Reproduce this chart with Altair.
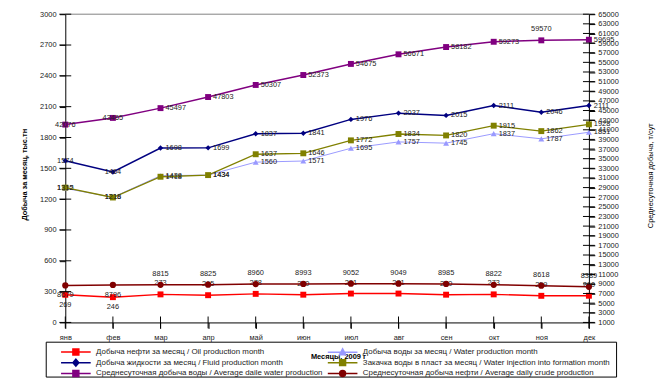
import altair as alt
import pandas as pd

# ---------------- data ----------------
months = ["янв", "фев", "мар", "апр", "май", "июн", "июл", "авг", "сен", "окт", "ноя", "дек"]

oil_month = [269, 246, 273, 265, 278, 270, 281, 281, 270, 273, 259, 260]
fluid_month = [1574, 1464, 1698, 1699, 1837, 1841, 1976, 2037, 2015, 2111, 2046, 2111]
water_month = [1305, 1218, 1428, 1434, 1560, 1571, 1695, 1757, 1745, 1837, 1787, 1851]
injection_month = [1312, 1216, 1418, 1434, 1637, 1646, 1772, 1834, 1820, 1915, 1862, 1928]
daily_water = [42076, 43465, 45497, 47803, 50307, 52373, 54675, 56671, 58182, 59273, 59570, 59695]
daily_oil = [8679, 8796, 8815, 8825, 8960, 8993, 9052, 9049, 8985, 8822, 8618, 8389]

left_ticks = [0, 300, 600, 900, 1200, 1500, 1800, 2100, 2400, 2700, 3000]
right_ticks = list(range(1000, 65001, 2000))

name_oil = "Добыча нефти за месяц / Oil production month"
name_fluid = "Добыча жидкости за месяц / Fluid production month"
name_dwater = "Среднесуточная добыча воды / Average daile water production"
name_water = "Добыча воды за месяц / Water production month"
name_inj = "Закачка воды в пласт за месяц / Water injection into formation month"
name_doil = "Среднесуточная добыча нефти /  Average daily crude production"

# ---------------- styles ----------------
FONT = "Liberation Sans"
FS = 7.5
TXT = "#222222"
C_OIL, C_FLUID, C_DWATER = "#FF0000", "#000080", "#800080"
C_WATER, C_INJ, C_DOIL = "#9999FF", "#808000", "#800000"

W, H = 530, 312

x_scale = alt.Scale(type="point", domain=months, padding=0)
x_axis = alt.Axis(tickSize=6, labelPadding=5, labelAngle=0, title="Месяцы, 2009 г",
                  titleFontWeight="bold", titleX=276, titleY=35, titleBaseline="middle",
                  titleAlign="center")
x_enc = alt.X("month:N", scale=x_scale, axis=x_axis)

left_scale = alt.Scale(domain=[0, 3000], nice=False, zero=False)
right_scale = alt.Scale(domain=[1000, 65000], nice=False, zero=False)
left_axis = alt.Axis(values=left_ticks, format="d", tickSize=6, labelPadding=3.4,
                     title="Добыча за месяц, тыс.тн", titleFontWeight="bold", titleAngle=270,
                     titleX=-41, titleY=162, titleAlign="center", titleBaseline="middle")
right_axis = alt.Axis(orient="right", values=right_ticks, format="d", tickSize=6, labelPadding=3,
                      title="Среднесуточная добыча, т/сут", titleFontWeight="normal",
                      titleAngle=270, titleX=62, titleY=163, titleAlign="center",
                      titleBaseline="middle")

y_left = alt.Y("value:Q", scale=left_scale, axis=left_axis)
y_right = alt.Y("value:Q", scale=right_scale, axis=right_axis)


def table(values):
    return pd.DataFrame({"month": months, "value": values,
                         "label": [str(v) for v in values], "i": list(range(12))})


def text_layer(base, yenc, filt, **kw):
    return base.transform_filter(filt).mark_text(
        font=FONT, fontSize=FS, color=TXT, baseline="middle", **kw
    ).encode(x=x_enc, y=yenc, text="label:N")


def series(values, color, shape, size, sw, yenc, mode, above_idx=()):
    base = alt.Chart(table(values))
    layers = [
        base.mark_line(color=color, strokeWidth=sw).encode(x=x_enc, y=yenc),
        base.mark_point(shape=shape, filled=True, size=size, color=color, opacity=1,
                        strokeWidth=0).encode(x=x_enc, y=yenc),
    ]
    if mode == "side":
        ex = "".join(f" && datum.i != {k}" for k in above_idx)
        layers.append(text_layer(base, yenc, "datum.i < 2", align="center"))
        layers.append(text_layer(base, yenc, "datum.i >= 2" + ex, align="left", dx=5))
        for k in above_idx:
            layers.append(text_layer(base, yenc, f"datum.i == {k}", align="center", dy=-11))
    else:
        layers.append(text_layer(base, yenc, "datum.i < 2", align="center", dy=10))
        layers.append(text_layer(base, yenc, "datum.i >= 2", align="center", dy=-11))
    return layers


# ---------------- legend (drawn by Vega legend from scales) ----------------
# Vega fills the two legend columns top-to-bottom
legend_order = [name_oil, name_fluid, name_dwater, name_water, name_inj, name_doil]
legend_colors = [C_OIL, C_FLUID, C_DWATER, C_WATER, C_INJ, C_DOIL]
# symbol unit = 3.5 px (symbolSize 49)
LINE = "M0,0L8.571,0"
SQ = "M3.429,-0.857L5.143,-0.857L5.143,0.857L3.429,0.857Z"
DIA = "M4.286,-1L5.143,0L4.286,1L3.429,0Z"
TRI = "M4.286,-0.95L5.2,0.75L3.372,0.75Z"
CIR = "M3.429,0A0.857,0.857,0,1,1,5.143,0A0.857,0.857,0,1,1,3.429,0Z"
legend_paths = [LINE + SQ, LINE + DIA, LINE + SQ, LINE + TRI, LINE + SQ, LINE + CIR]

leg = alt.Legend(orient="none", legendX=-8.8, legendY=337.2, columns=2, columnPadding=-2,
                 rowPadding=-2.3, symbolSize=49, symbolStrokeWidth=1.5, labelOffset=31,
                 labelFont=FONT, labelFontSize=8, labelColor=TXT, labelLimit=400,
                 title=None, padding=0, symbolLimit=20)

legend_layer = alt.Chart(pd.DataFrame({"series": legend_order})).transform_filter(
    "false").mark_point(filled=True, opacity=1, strokeWidth=1.5).encode(
    color=alt.Color("series:N", scale=alt.Scale(domain=legend_order, range=legend_colors),
                    legend=leg),
    stroke=alt.Stroke("series:N", scale=alt.Scale(domain=legend_order, range=legend_colors),
                      legend=leg),
    shape=alt.Shape("series:N", scale=alt.Scale(domain=legend_order, range=legend_paths),
                    legend=leg),
)

legend_frame = alt.Chart(pd.DataFrame({"a": [0]})).mark_rect(
    fill="transparent", stroke="black", strokeWidth=1).encode(
    x=alt.value(-19.3), x2=alt.value(558), y=alt.value(332), y2=alt.value(367.3))

# ---------------- decorations ----------------
one = pd.DataFrame({"a": [0]})
top_line = alt.Chart(one).mark_rule(color="#808080", strokeWidth=1).encode(
    x=alt.X(datum=months[0], type="nominal", scale=x_scale, axis=x_axis),
    x2=alt.X2(datum=months[-1]),
    y=alt.Y(datum=3000, type="quantitative", scale=left_scale, axis=left_axis))

x_ticks = alt.Chart(pd.DataFrame({"month": months})).mark_rule(
    color="black", strokeWidth=1, yOffset=-6, y2Offset=6).encode(
    x=x_enc,
    y=alt.Y(datum=0, type="quantitative", scale=left_scale, axis=left_axis),
    y2=alt.Y2(datum=0))

l_ticks = alt.Chart(pd.DataFrame({"value": left_ticks})).mark_rule(
    color="black", strokeWidth=1, xOffset=-6, x2Offset=6).encode(
    x=alt.X(datum=months[0], type="nominal", scale=x_scale, axis=x_axis),
    x2=alt.X2(datum=months[0]), y=y_left)

r_ticks = alt.Chart(pd.DataFrame({"value": right_ticks})).mark_rule(
    color="black", strokeWidth=1, xOffset=-6, x2Offset=6).encode(
    x=alt.X(datum=months[-1], type="nominal", scale=x_scale, axis=x_axis),
    x2=alt.X2(datum=months[-1]), y=y_right)

left_group = alt.layer(
    top_line, legend_frame, legend_layer,
    *series(water_month, C_WATER, "triangle-up", 36, 1, y_left, "side"),
    *series(injection_month, C_INJ, "square", 36, 1.3, y_left, "side"),
    *series(fluid_month, C_FLUID, "diamond", 30, 1.5, y_left, "side"),
    *series(oil_month, C_OIL, "square", 36, 1.5, y_left, "vertical"),
    x_ticks, l_ticks,
)

right_group = alt.layer(
    *series(daily_water, C_DWATER, "square", 36, 1.5, y_right, "side", above_idx=(10,)),
    *series(daily_oil, C_DOIL, "circle", 40, 1.5, y_right, "vertical"),
    r_ticks,
)

chart = alt.layer(left_group, right_group).resolve_scale(y="independent").properties(
    width=W, height=H,
    autosize=alt.AutoSizeParams(type="none"),
    padding={"left": 58, "top": 4, "right": 75, "bottom": 56},
).configure_axis(
    labelFont=FONT, titleFont=FONT, labelFontSize=FS, titleFontSize=FS,
    labelColor=TXT, titleColor="#000000", domainColor="#000000", tickColor="#000000",
    domainWidth=1, tickWidth=1, grid=False,
).configure_view(stroke=None)

chart.save("out.html", embed_options={"renderer": "svg", "actions": False})
